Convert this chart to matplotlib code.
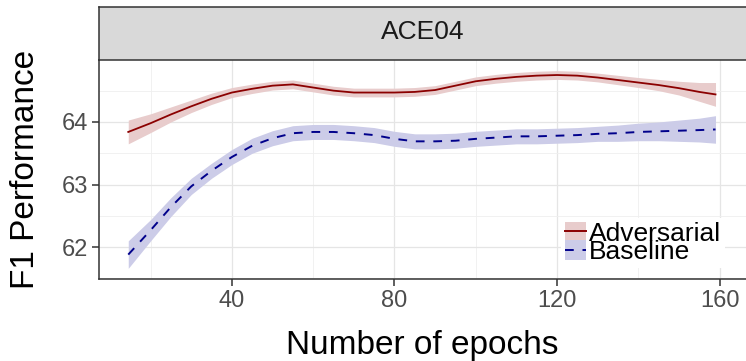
import matplotlib
matplotlib.use("Agg")
import matplotlib.pyplot as plt
from matplotlib.patches import Patch
from matplotlib.lines import Line2D
from matplotlib.ticker import MultipleLocator

plt.rcParams["font.family"] = ["Liberation Sans", "DejaVu Sans"]

# Smoothed F1 curves (loess fit) with their confidence half-widths
epochs = [14.5, 20, 25, 30, 35, 40, 45, 50, 55, 60, 65, 70, 75, 80, 85, 90,
          95, 100, 105, 110, 115, 120, 125, 130, 135, 140, 145, 150, 155, 159]
adversarial = [63.84, 63.98, 64.12, 64.25, 64.37, 64.47, 64.53, 64.58, 64.60,
               64.55, 64.50, 64.47, 64.47, 64.47, 64.48, 64.51, 64.58, 64.65,
               64.69, 64.72, 64.74, 64.75, 64.74, 64.71, 64.67, 64.63, 64.59,
               64.54, 64.48, 64.44]
adversarial_ci = [0.19, 0.15, 0.12, 0.10, 0.09, 0.08, 0.075, 0.07, 0.07, 0.07,
                  0.07, 0.07, 0.07, 0.07, 0.07, 0.07, 0.07, 0.07, 0.07, 0.07,
                  0.07, 0.07, 0.07, 0.07, 0.075, 0.08, 0.09, 0.11, 0.15, 0.19]
baseline = [61.88, 62.27, 62.64, 62.97, 63.22, 63.44, 63.62, 63.74, 63.82,
            63.84, 63.84, 63.82, 63.79, 63.73, 63.69, 63.69, 63.70, 63.73,
            63.75, 63.77, 63.77, 63.78, 63.79, 63.81, 63.82, 63.84, 63.85,
            63.86, 63.87, 63.88]
baseline_ci = [0.22, 0.17, 0.15, 0.13, 0.12, 0.12, 0.12, 0.12, 0.12, 0.12,
               0.12, 0.12, 0.12, 0.12, 0.12, 0.12, 0.12, 0.12, 0.12, 0.12,
               0.12, 0.12, 0.12, 0.12, 0.13, 0.14, 0.15, 0.17, 0.19, 0.22]

panel_title = "ACE04"
x_ticks = [40, 80, 120, 160]
y_ticks = [62, 63, 64]
series_names = ["Adversarial", "Baseline"]

adv_line = "#8B0000"
base_line = "#00008B"
adv_fill = "#E8CCCC"
base_fill = "#CCCCE8"

W, H = 746, 361
fig = plt.figure(figsize=(W / 100, H / 100), dpi=100)

left, right, top, bottom = 99, 746, 60, 279
ax = fig.add_axes([left / W, (H - bottom) / H, (right - left) / W, (bottom - top) / H])

# confidence ribbons
ax.fill_between(epochs, [m - c for m, c in zip(adversarial, adversarial_ci)],
                [m + c for m, c in zip(adversarial, adversarial_ci)],
                color=adv_fill, lw=0, zorder=2)
ax.fill_between(epochs, [m - c for m, c in zip(baseline, baseline_ci)],
                [m + c for m, c in zip(baseline, baseline_ci)],
                color=base_fill, lw=0, zorder=2)
ax.plot(epochs, adversarial, color=adv_line, lw=1.3, zorder=3)
ax.plot(epochs, baseline, color=base_line, lw=1.4, dashes=(4.5, 4.5), zorder=3)

ax.set_xlim(7.3, 166.5)
ax.set_ylim(61.49, 64.99)
ax.set_xticks(x_ticks)
ax.set_yticks(y_ticks)
ax.xaxis.set_minor_locator(MultipleLocator(20))
ax.yaxis.set_minor_locator(MultipleLocator(0.5))
ax.grid(which="major", color="#E5E5E5", lw=0.9, zorder=0)
ax.grid(which="minor", color="#EFEFEF", lw=0.6, zorder=0)
ax.set_axisbelow(True)

for s in ("top", "right"):
    ax.spines[s].set_visible(False)
for s in ("left", "bottom"):
    ax.spines[s].set_color("#333333")
    ax.spines[s].set_linewidth(1.1)

ax.tick_params(which="major", length=5, width=1.1, color="#333333",
               labelsize=17, labelcolor="#4D4D4D", pad=3)
ax.tick_params(which="minor", length=0)

ax.set_xlabel("Number of epochs", fontsize=24, color="black")
ax.set_ylabel("F1 Performance", fontsize=24, color="black")
ax.xaxis.set_label_coords(0.5, (bottom - 330) / (bottom - top))
ax.yaxis.set_label_coords((41 - left) / (right - left), 0.5)

# facet strip
strip_top = 7
sax = fig.add_axes([left / W, (H - top) / H, (right - left + 10) / W, (top - strip_top) / H])
sax.set_xticks([])
sax.set_yticks([])
sax.set_facecolor("#D9D9D9")
for s in sax.spines.values():
    s.set_color("#333333")
    s.set_linewidth(1.1)
sax.text((right - left) / 2 / (right - left + 10), 0.52, panel_title, ha="center",
         va="center", fontsize=19, color="#1A1A1A", transform=sax.transAxes)

handles = [
    (Patch(facecolor=adv_fill, edgecolor="none"), Line2D([], [], color=adv_line, lw=1.4)),
    (Patch(facecolor=base_fill, edgecolor="none"), Line2D([], [], color=base_line, lw=1.4, dashes=(4.5, 4.5))),
]
leg = ax.legend(handles, series_names, loc="lower right",
                bbox_to_anchor=((725 - left) / (right - left), (bottom - 268) / (bottom - top)),
                borderaxespad=0, fontsize=19,
                frameon=True, facecolor="white", edgecolor="none", framealpha=1,
                handlelength=0.8, handleheight=0.76, handletextpad=0.12,
                labelspacing=-0.22, borderpad=0.15, fancybox=False)
leg.set_zorder(5)

fig.savefig("out.png", dpi=100)
